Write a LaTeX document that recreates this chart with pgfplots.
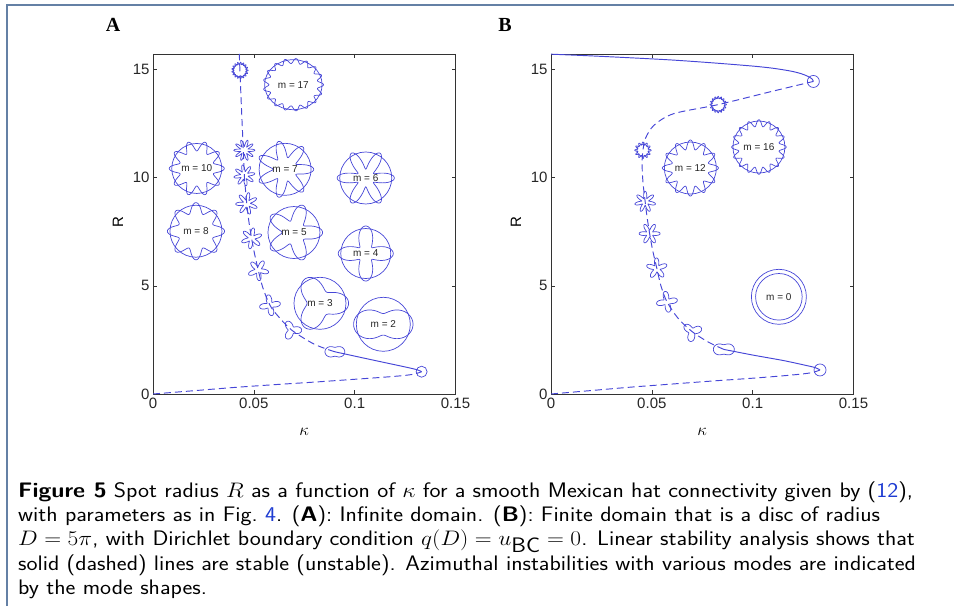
\RequirePackage{fix-cm}
\documentclass[border=0pt]{standalone}
\usepackage{fontspec}
\usepackage{graphicx}
\usepackage{pgfplots}
\pgfplotsset{compat=1.18}
\newfontfamily\arialfont{Liberation Sans}
\newfontfamily\timesfont{Liberation Serif}
\definecolor{cblue}{RGB}{70,70,215}
\definecolor{framec}{RGB}{100,128,165}
\definecolor{linkblue}{RGB}{30,60,210}

\tikzset{
  curve/.style={cblue, line width=0.95pt},
  dcurve/.style={curve, dash pattern=on 7pt off 4pt},
  shp/.style={cblue, line width=0.7pt},
}
\pgfplotsset{
  panel/.style={
    scale only axis, width=302.5pt, height=340pt,
    xmin=0, xmax=0.15, ymin=0, ymax=15.708,
    xtick={0,0.05,0.1,0.15}, xticklabels={0,0.05,0.1,0.15},
    ytick={0,5,10,15}, yticklabels={0,5,10,15},
    tick pos=both, tick align=inside,
    major tick length=4pt,
    axis line style={black!80, line width=0.5pt},
    tick style={black!80, line width=0.5pt},
    /pgf/number format/assume math mode=true,
    ticklabel style={font=\arialfont\fontsize{15}{15}\selectfont, black!85},
    xlabel={\fontsize{17}{17}\selectfont$\kappa$},
    ylabel={\arialfont\fontsize{15}{15}\selectfont R},
    xlabel style={at={(axis description cs:0.5,-0.11)}, anchor=center},
    ylabel style={at={(axis description cs:-0.116,0.506)}, anchor=center},
  }
}

% big mode shape: coord, m, radius, c, b, xscale, label
\newcommand\modeshape[7]{%
  \draw[shp, shift={(#1)}, xscale=#6] (0,0) circle[radius=#3pt];
  \draw[shp, shift={(#1)}, xscale=#6] plot[domain=0:360, samples=241] (\x:{#3pt*(#4+#5*cos(#2*\x))}) -- cycle;
  \node[font=\arialfont\fontsize{10}{10}\selectfont, text=black!85] at (#1) {#7};
}
% small mode shape on the branch: coord, m, radius, c, b, rotation
\newcommand\smallshape[6]{%
  \draw[shp, shift={(#1)}, rotate=#6] plot[domain=0:360, samples=181] (\x:{#3pt*(#4+#5*cos(#2*\x))}) -- cycle;
}

\begin{document}
\begin{tikzpicture}
\useasboundingbox (0,0) rectangle (954pt,606pt);
\draw[framec, line width=1.5pt] (7pt,0) -- (7pt,601pt) -- (954pt,601pt);

% ---------- panel A
\begin{axis}[panel, at={(153pt,212pt)}, anchor=south west]
\addplot[dcurve, smooth] coordinates {(0,0) (0.02,0.15) (0.04,0.3) (0.06,0.43) (0.08,0.55) (0.1,0.68) (0.115,0.78) (0.125,0.86) (0.13,0.93) (0.1332,1.03)};
\addplot[curve, smooth] coordinates {(0.1332,1.03) (0.131,1.12) (0.125,1.25) (0.115,1.45) (0.105,1.65) (0.0902,1.95)};
\addplot[dcurve, smooth] coordinates {(0.0902,1.95) (0.08,2.3) (0.0688,2.95) (0.062,3.6) (0.058,4.1) (0.0545,4.9) (0.0522,5.72) (0.0503,6.5) (0.0489,7.19) (0.0475,8.0) (0.0465,8.8) (0.0458,9.5) (0.0453,10.1) (0.0448,11.26) (0.0442,12.5) (0.0436,13.8) (0.0431,14.95) (0.0428,15.708)};
\coordinate (a17) at (axis cs:0.0696,14.29);
\coordinate (a10) at (axis cs:0.0217,10.42);
\coordinate (a7) at (axis cs:0.0655,10.38);
\coordinate (a6) at (axis cs:0.1055,9.98);
\coordinate (a8) at (axis cs:0.0213,7.52);
\coordinate (a5) at (axis cs:0.0699,7.46);
\coordinate (a4) at (axis cs:0.1055,6.49);
\coordinate (a3) at (axis cs:0.0828,4.19);
\coordinate (a2) at (axis cs:0.1142,3.22);
\coordinate (s17) at (axis cs:0.0431,14.95);
\coordinate (s10) at (axis cs:0.0453,11.26);
\coordinate (s8) at (axis cs:0.0453,10.1);
\coordinate (s7) at (axis cs:0.0465,8.8);
\coordinate (s6) at (axis cs:0.0489,7.19);
\coordinate (s5) at (axis cs:0.0522,5.72);
\coordinate (s4) at (axis cs:0.058,4.1);
\coordinate (s3) at (axis cs:0.0688,2.95);
\coordinate (s2) at (axis cs:0.0902,1.95);
\coordinate (s0) at (axis cs:0.1332,1.03);
\end{axis}
\modeshape{a17}{17}{25}{0.95}{0.1}{1.15}{m = 17}
\modeshape{a10}{10}{25}{0.9}{0.2}{1}{m = 10}
\modeshape{a7}{7}{26}{0.78}{0.32}{1}{m = 7}
\modeshape{a6}{6}{26}{0.72}{0.38}{1}{m = 6}
\modeshape{a8}{8}{26}{0.9}{0.2}{1}{m = 8}
\modeshape{a5}{5}{26}{0.78}{0.32}{1}{m = 5}
\modeshape{a4}{4}{25}{0.72}{0.38}{1}{m = 4}
\modeshape{a3}{3}{26}{0.8}{0.3}{1}{m = 3}
\modeshape{a2}{2}{27}{0.75}{0.35}{1}{m = 2}
\draw[shp] (s17) circle[radius=6.5pt];
\smallshape{s17}{17}{7.5}{0.95}{0.15}{0}
\smallshape{s10}{10}{10}{0.72}{0.33}{0}
\smallshape{s8}{8}{10}{0.72}{0.33}{10}
\smallshape{s7}{7}{10.5}{0.7}{0.35}{80}
\smallshape{s6}{6}{10}{0.7}{0.35}{20}
\smallshape{s5}{5}{10}{0.7}{0.35}{60}
\smallshape{s4}{4}{10}{0.7}{0.35}{10}
\smallshape{s3}{3}{9}{0.75}{0.35}{120}
\smallshape{s2}{2}{9}{0.8}{0.3}{0}
\draw[shp] (s0) circle[radius=5.5pt];
\node[font=\timesfont\bfseries\fontsize{20}{20}\selectfont] at (113pt,581pt) {A};

% ---------- panel B
\begin{axis}[panel, at={(551pt,212pt)}, anchor=south west]
\addplot[dcurve, smooth] coordinates {(0,0) (0.02,0.16) (0.04,0.32) (0.06,0.46) (0.08,0.6) (0.1,0.73) (0.115,0.84) (0.125,0.93) (0.13,1.0) (0.1334,1.11)};
\addplot[curve, smooth] coordinates {(0.1334,1.11) (0.131,1.22) (0.125,1.35) (0.115,1.55) (0.1,1.8) (0.0857,2.06)};
\addplot[dcurve, smooth] coordinates {(0.0857,2.06) (0.078,2.4) (0.07,2.88) (0.063,3.5) (0.0575,4.26) (0.0545,5.0) (0.0525,5.8) (0.0505,6.6) (0.0489,7.41) (0.0476,8.2) (0.0467,8.88) (0.0458,9.6) (0.0453,10.2) (0.0452,10.8) (0.0456,11.26) (0.0468,11.8) (0.051,12.41) (0.0608,12.95) (0.0829,13.37) (0.1104,14.0) (0.1301,14.44)};
\addplot[curve, smooth] coordinates {(0.1301,14.44) (0.1295,14.55) (0.1275,14.67) (0.124,14.8) (0.1188,14.92) (0.11,15.05) (0.1,15.15) (0.08,15.3) (0.06,15.43) (0.04,15.53) (0.02,15.62) (0,15.7)};
\coordinate (b12) at (axis cs:0.0691,10.44);
\coordinate (b16) at (axis cs:0.1031,11.41);
\coordinate (b0) at (axis cs:0.1130,4.49);
\coordinate (t16) at (axis cs:0.0829,13.37);
\coordinate (t12) at (axis cs:0.0456,11.26);
\coordinate (t7) at (axis cs:0.0467,8.88);
\coordinate (t6) at (axis cs:0.0489,7.41);
\coordinate (t5) at (axis cs:0.0525,5.8);
\coordinate (t4) at (axis cs:0.0575,4.26);
\coordinate (t3) at (axis cs:0.07,2.88);
\coordinate (t2) at (axis cs:0.0857,2.06);
\coordinate (tu) at (axis cs:0.1301,14.44);
\coordinate (tl) at (axis cs:0.1334,1.11);
\end{axis}
\modeshape{b12}{12}{26}{0.9}{0.18}{1}{m = 12}
\modeshape{b16}{16}{26}{0.92}{0.13}{1}{m = 16}
\draw[shp] (b0) circle[radius=27.5pt] (b0) circle[radius=23.3pt];
\node[font=\arialfont\fontsize{10}{10}\selectfont, text=black!85] at (b0) {m = 0};
\draw[shp] (t16) circle[radius=6.5pt];
\smallshape{t16}{16}{7.5}{0.95}{0.15}{0}
\draw[shp] (t12) circle[radius=6pt];
\smallshape{t12}{12}{7.5}{0.9}{0.2}{0}
\smallshape{t7}{7}{10}{0.7}{0.35}{90}
\smallshape{t6}{6}{10}{0.7}{0.35}{0}
\smallshape{t5}{5}{10}{0.7}{0.35}{20}
\smallshape{t4}{4}{10}{0.7}{0.35}{10}
\smallshape{t3}{3}{9}{0.75}{0.35}{140}
\smallshape{t2}{2}{9.5}{0.8}{0.3}{0}
\draw[shp] (tu) circle[radius=6pt] (tl) circle[radius=6pt];
\node[font=\timesfont\bfseries\fontsize{20}{20}\selectfont] at (505pt,581pt) {B};

% ---------- caption
\node[anchor=north west, inner sep=0pt] at (18pt,126pt)
{\scalebox{1.115}[1]{\fontsize{21}{24.2}\selectfont\sffamily
\begin{tabular}{@{}l@{}}
\textbf{Figure 5} Spot radius $R$ as a function of $\kappa$ for a smooth Mexican hat connectivity given by (\textcolor{linkblue}{12}),\\
with parameters as in Fig.~\textcolor{linkblue}{4}. (\textbf{A}): Infinite domain. (\textbf{B}): Finite domain that is a disc of radius\\
$D=5\pi$, with Dirichlet boundary condition $q(D)=u_{\textsf{BC}}=0$. Linear stability analysis shows that\\
solid (dashed) lines are stable (unstable). Azimuthal instabilities with various modes are indicated\\
by the mode shapes.
\end{tabular}}};
\end{tikzpicture}
\end{document}
